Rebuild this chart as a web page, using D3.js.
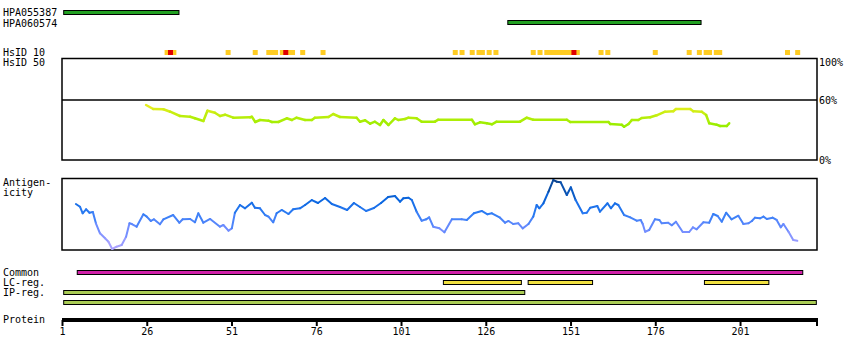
<!DOCTYPE html>
<html>
<head>
<meta charset="utf-8">
<script src="https://cdn.jsdelivr.net/npm/d3@7/dist/d3.min.js"></script>
<style>
body { margin: 0; background: #fff; }
text { font-family: "DejaVu Sans Mono", monospace; font-size: 10px; fill: #000; }
</style>
</head>
<body>
<div id="chart"></div>
<script>
// protein + antibody info
var proteinLength = 223;
var proteinTicks = [1, 26, 51, 76, 101, 126, 151, 176, 201];
var antibodies = ["HPA055387", "HPA060574"];
var antibodyStart = [2, 133];
var antibodyEnd = [35, 189];

// HsID 10 marks (residues)
var hsid10Yellow = [32, 33, 34, 50, 58, 62, 63, 64, 66, 67, 68, 69, 72, 78, 117, 119, 122, 124, 125, 127, 129,
  140, 142, 144, 145, 146, 147, 148, 149, 150, 151, 152, 153, 160, 162, 176, 186, 189, 191, 192, 194, 195, 215, 218];
var hsid10Red = [33, 67, 152];

// HsID 50 identity (%) along the sequence
var hsid50Residue = [25.8, 27.9, 30.9, 32.9, 35.8, 38.8, 40.2, 42.7, 43.9, 46.1, 47.6, 49.1, 51.5, 56.5, 57.0, 58.0,
  59.4, 61.9, 62.9, 64.8, 67.3, 68.8, 70.2, 72.7, 74.7, 75.6, 79.6, 81.0, 83.0, 87.9, 88.9, 90.4, 91.9, 93.3, 94.8,
  95.8, 97.3, 99.2, 100.2, 102.2, 103.2, 105.6, 107.1, 111.0, 112.0, 121.9, 122.8, 124.3, 126.3, 127.8, 129.2, 136.1,
  138.1, 140.0, 149.9, 150.9, 162.2, 162.7, 166.1, 166.8, 168.1, 169.1, 171.0, 172.0, 174.5, 176.4, 178.9, 181.3,
  182.1, 186.3, 187.2, 189.7, 191.0, 191.9, 194.1, 195.1, 197.1, 197.8];
var hsid50Value = [55, 51, 50.7, 48.3, 44, 43.3, 41.7, 39, 49.3, 47.3, 44, 45.3, 42.3, 42.7, 43.3, 38,
  40, 39.3, 38, 38, 41.7, 40, 42.3, 40, 40, 42.3, 43, 46, 43, 42.3, 38.3, 39.7, 36.3, 38.3, 35,
  40, 35, 41.7, 40, 41, 42.3, 41.7, 38.3, 38.3, 40.3, 40.3, 35.7, 37.7, 36.7, 35.7, 38.3, 38.3,
  42.3, 40.3, 40.3, 38, 38, 36, 35.3, 33.3, 36, 40, 40, 42, 42.7, 44.7, 48.3, 48.7,
  51, 51, 48.7, 48.3, 45, 36.7, 35.3, 34, 34, 36.7];

// antigenicity score (0-100)
var antigenResidue = [5.1, 6.3, 7.1, 8.1, 9.1, 10.1, 11.0, 12.2, 13.7, 14.7, 15.8, 17.1, 18.6, 19.9, 20.9, 21.6, 23.0,
  25.0, 26.0, 27.2, 28.1, 29.9, 30.9, 33.8, 35.6, 36.6, 38.8, 40.2, 41.2, 42.7, 44.7, 47.6, 48.6, 50.1, 51.1, 52.0,
  53.5, 55.0, 57.0, 57.9, 59.4, 60.9, 61.9, 63.3, 64.3, 65.8, 67.8, 69.2, 71.2, 72.7, 74.7, 76.5, 78.6, 80.6, 83.0,
  85.1, 87.1, 88.9, 90.7, 93.0, 95.1, 97.2, 99.2, 100.7, 101.7, 103.2, 104.2, 105.6, 107.1, 108.4, 109.3, 110.5,
  112.3, 113.8, 116.0, 118.9, 120.4, 122.5, 124.8, 126.5, 127.8, 130.2, 131.7, 132.7, 134.1, 135.6, 136.9, 138.6,
  140.0, 141.0, 141.8, 143.0, 144.5, 145.9, 146.9, 148.1, 149.9, 151.1, 152.5, 154.6, 155.8, 156.8, 158.9, 159.7,
  161.9, 162.9, 164.1, 165.1, 166.8, 168.6, 170.5, 171.7, 172.3, 173.0, 174.2, 175.9, 177.2, 177.9, 179.8, 180.9,
  182.1, 184.1, 186.0, 187.1, 188.2, 190.2, 191.9, 193.1, 194.4, 195.6, 196.9, 198.5, 200.5, 202.0, 203.5, 204.5,
  205.4, 206.9, 207.9, 208.9, 210.6, 211.8, 213.0, 213.8, 215.3, 216.7, 217.9];
var antigenValue = [63.9, 60.1, 51.0, 56.5, 51.8, 52.8, 37.1, 23.2, 16.3, 11.5, 1.4, 4.6, 6.9, 18.5, 37.1, 36.1, 32.4,
  49.6, 46.3, 40.3, 42.6, 35.7, 42.6, 48.6, 37.9, 42.6, 43.1, 38.5, 51.0, 37.9, 43.1, 32.4, 34.7, 26.8, 30.1, 51.8,
  62.5, 57.9, 65.7, 58.7, 57.9, 48.6, 46.3, 38.5, 51.0, 55.6, 50.0, 56.5, 57.9, 62.5, 69.4, 65.3, 72.2, 63.9, 59.7,
  55.6, 65.3, 59.7, 54.2, 58.3, 65.3, 73.6, 75.0, 67.1, 71.8, 72.6, 69.4, 53.2, 40.7, 42.6, 45.4, 32.4,
  30.1, 24.6, 42.6, 42.6, 41.7, 51.0, 54.2, 49.6, 51.0, 44.9, 37.9, 40.3, 36.1, 37.1, 30.1, 36.1,
  46.3, 62.5, 57.9, 64.9, 81.0, 97.2, 94.9, 94.0, 76.4, 87.1, 69.4, 51.0, 51.8, 58.7, 61.1, 53.2,
  64.9, 57.9, 64.9, 62.5, 48.6, 45.4, 40.7, 41.7, 36.1, 25.4, 27.8, 42.6, 41.7, 37.1, 37.9, 34.3,
  39.3, 25.0, 25.0, 31.5, 28.8, 38.5, 37.9, 50.0, 47.2, 39.3, 51.8, 42.6, 47.6, 36.1, 37.1, 40.3,
  44.9, 44.0, 46.3, 43.1, 44.9, 41.7, 31.5, 36.1, 25.4, 13.9, 12.9];

// region bars [start, end]
var commonRegions = [[6, 219]];
var lcRegions = [[114, 136], [139, 157], [191, 209]];
var ipRegionsA = [[2, 137]];
var ipRegionsB = [[2, 223]];

var width = 850, height = 360;
var svg = d3.select("#chart").append("svg")
  .attr("width", width)
  .attr("height", height);

var x = d3.scaleLinear().domain([1, proteinLength + 0.7]).range([62, 817]);

//left labels
var labels = [["HPA055387", 16], ["HPA060574", 27], ["HsID 10", 56], ["HsID 50", 66], ["Antigen-", 186],
  ["icity", 196], ["Common", 276], ["LC-reg.", 286], ["IP-reg.", 296], ["Protein", 323]];
svg.selectAll(".lbl").data(labels).enter().append("text")
  .attr("class", "lbl").attr("x", 3).attr("y", function(d){return d[1];}).text(function(d){return d[0];});

// antibody bars
var abY = [10, 20];
antibodies.forEach(function(name, i){
  svg.append("rect")
    .attr("x", x(antibodyStart[i] - 0.5))
    .attr("y", abY[i] + 0.5)
    .attr("width", x(antibodyEnd[i] + 0.5) - x(antibodyStart[i] - 0.5))
    .attr("height", 4)
    .attr("fill", "#22a022").attr("stroke", "#000").attr("stroke-width", 1);
});

// HsID 10 squares
svg.selectAll(".hy").data(hsid10Yellow).enter().append("rect")
  .attr("x", function(d){return x(d) - 2.5;}).attr("y", 50).attr("width", 5).attr("height", 5)
  .attr("fill", "#ffcc22");
svg.selectAll(".hr").data(hsid10Red).enter().append("rect")
  .attr("x", function(d){return x(d) - 2.5;}).attr("y", 50).attr("width", 5).attr("height", 5)
  .attr("fill", "#e00000");

// HsID 50 panel
var yId = d3.scaleLinear().domain([0, 100]).range([160, 60]);
svg.append("rect").attr("x", 62).attr("y", 58.5).attr("width", 755).attr("height", 101.5)
  .attr("fill", "none").attr("stroke", "#000").attr("stroke-width", 1.5);
svg.append("line").attr("x1", 62).attr("x2", 817).attr("y1", yId(60)).attr("y2", yId(60))
  .attr("stroke", "#000").attr("stroke-width", 1.5);
svg.append("text").attr("x", 819).attr("y", 66).text("100%");
svg.append("text").attr("x", 819).attr("y", 104).text("60%");
svg.append("text").attr("x", 819).attr("y", 164).text("0%");

var idColor = d3.scaleLinear().domain([35, 42, 55]).range(["#99ee00", "#b4ee08", "#eeee22"]).clamp(true);
var idLine = d3.line().x(function(d){return x(d[0]);}).y(function(d){return yId(d[1]);});
for (var i = 0; i < hsid50Residue.length - 1; i++) {
  var seg = [[hsid50Residue[i], hsid50Value[i]], [hsid50Residue[i+1], hsid50Value[i+1]]];
  svg.append("path").attr("d", idLine(seg)).attr("fill", "none")
    .attr("stroke", idColor((hsid50Value[i] + hsid50Value[i+1]) / 2))
    .attr("stroke-width", 2.5).attr("stroke-linecap", "round");
}

// antigenicity panel
var yAg = d3.scaleLinear().domain([0, 100]).range([250, 178]);
svg.append("rect").attr("x", 62).attr("y", 178.5).attr("width", 755).attr("height", 71.5)
  .attr("fill", "none").attr("stroke", "#000").attr("stroke-width", 1.5);
var agColor = d3.scaleLinear().domain([0, 30, 50, 70, 100])
  .range(["#b4a6ff", "#6e8cff", "#2f7df5", "#0a66e0", "#0a3d80"]).clamp(true);
var agLine = d3.line().x(function(d){return x(d[0]);}).y(function(d){return yAg(d[1]);});
for (var j = 0; j < antigenResidue.length - 1; j++) {
  var s = [[antigenResidue[j], antigenValue[j]], [antigenResidue[j+1], antigenValue[j+1]]];
  svg.append("path").attr("d", agLine(s)).attr("fill", "none")
    .attr("stroke", agColor((antigenValue[j] + antigenValue[j+1]) / 2))
    .attr("stroke-width", 2).attr("stroke-linecap", "round");
}

// region bars
function drawBars(regions, y, fill) {
  svg.selectAll(null).data(regions).enter().append("rect")
    .attr("x", function(d){return x(d[0] - 0.5);})
    .attr("y", y + 0.5)
    .attr("width", function(d){return x(d[1] + 0.5) - x(d[0] - 0.5);})
    .attr("height", 4)
    .attr("fill", fill).attr("stroke", "#000").attr("stroke-width", 1);
}
drawBars(commonRegions, 270, "#d020a8");
drawBars(lcRegions, 280, "#f0e040");
drawBars(ipRegionsA, 290, "#aacc55");
drawBars(ipRegionsB, 300, "#aacc55");

// protein axis
var axis = d3.axisBottom(x).tickValues(proteinTicks).tickSize(6).tickSizeOuter(0).tickFormat(d3.format("d"));
var axisG = svg.append("g").attr("transform", "translate(0,320)").call(axis);
axisG.select(".domain").remove();
axisG.selectAll(".tick line").attr("stroke", "#000").attr("stroke-width", 2);
axisG.selectAll(".tick text").attr("y", 9).attr("dy", 0)
  .attr("transform", "translate(0,6)")
  .style("font-family", "DejaVu Sans Mono, monospace").style("font-size", "10px");
svg.append("line").attr("x1", 62).attr("x2", 818).attr("y1", 320).attr("y2", 320)
  .attr("stroke", "#000").attr("stroke-width", 4);
svg.append("line").attr("x1", 817).attr("x2", 817).attr("y1", 320).attr("y2", 326)
  .attr("stroke", "#000").attr("stroke-width", 2);
</script>
</body>
</html>
